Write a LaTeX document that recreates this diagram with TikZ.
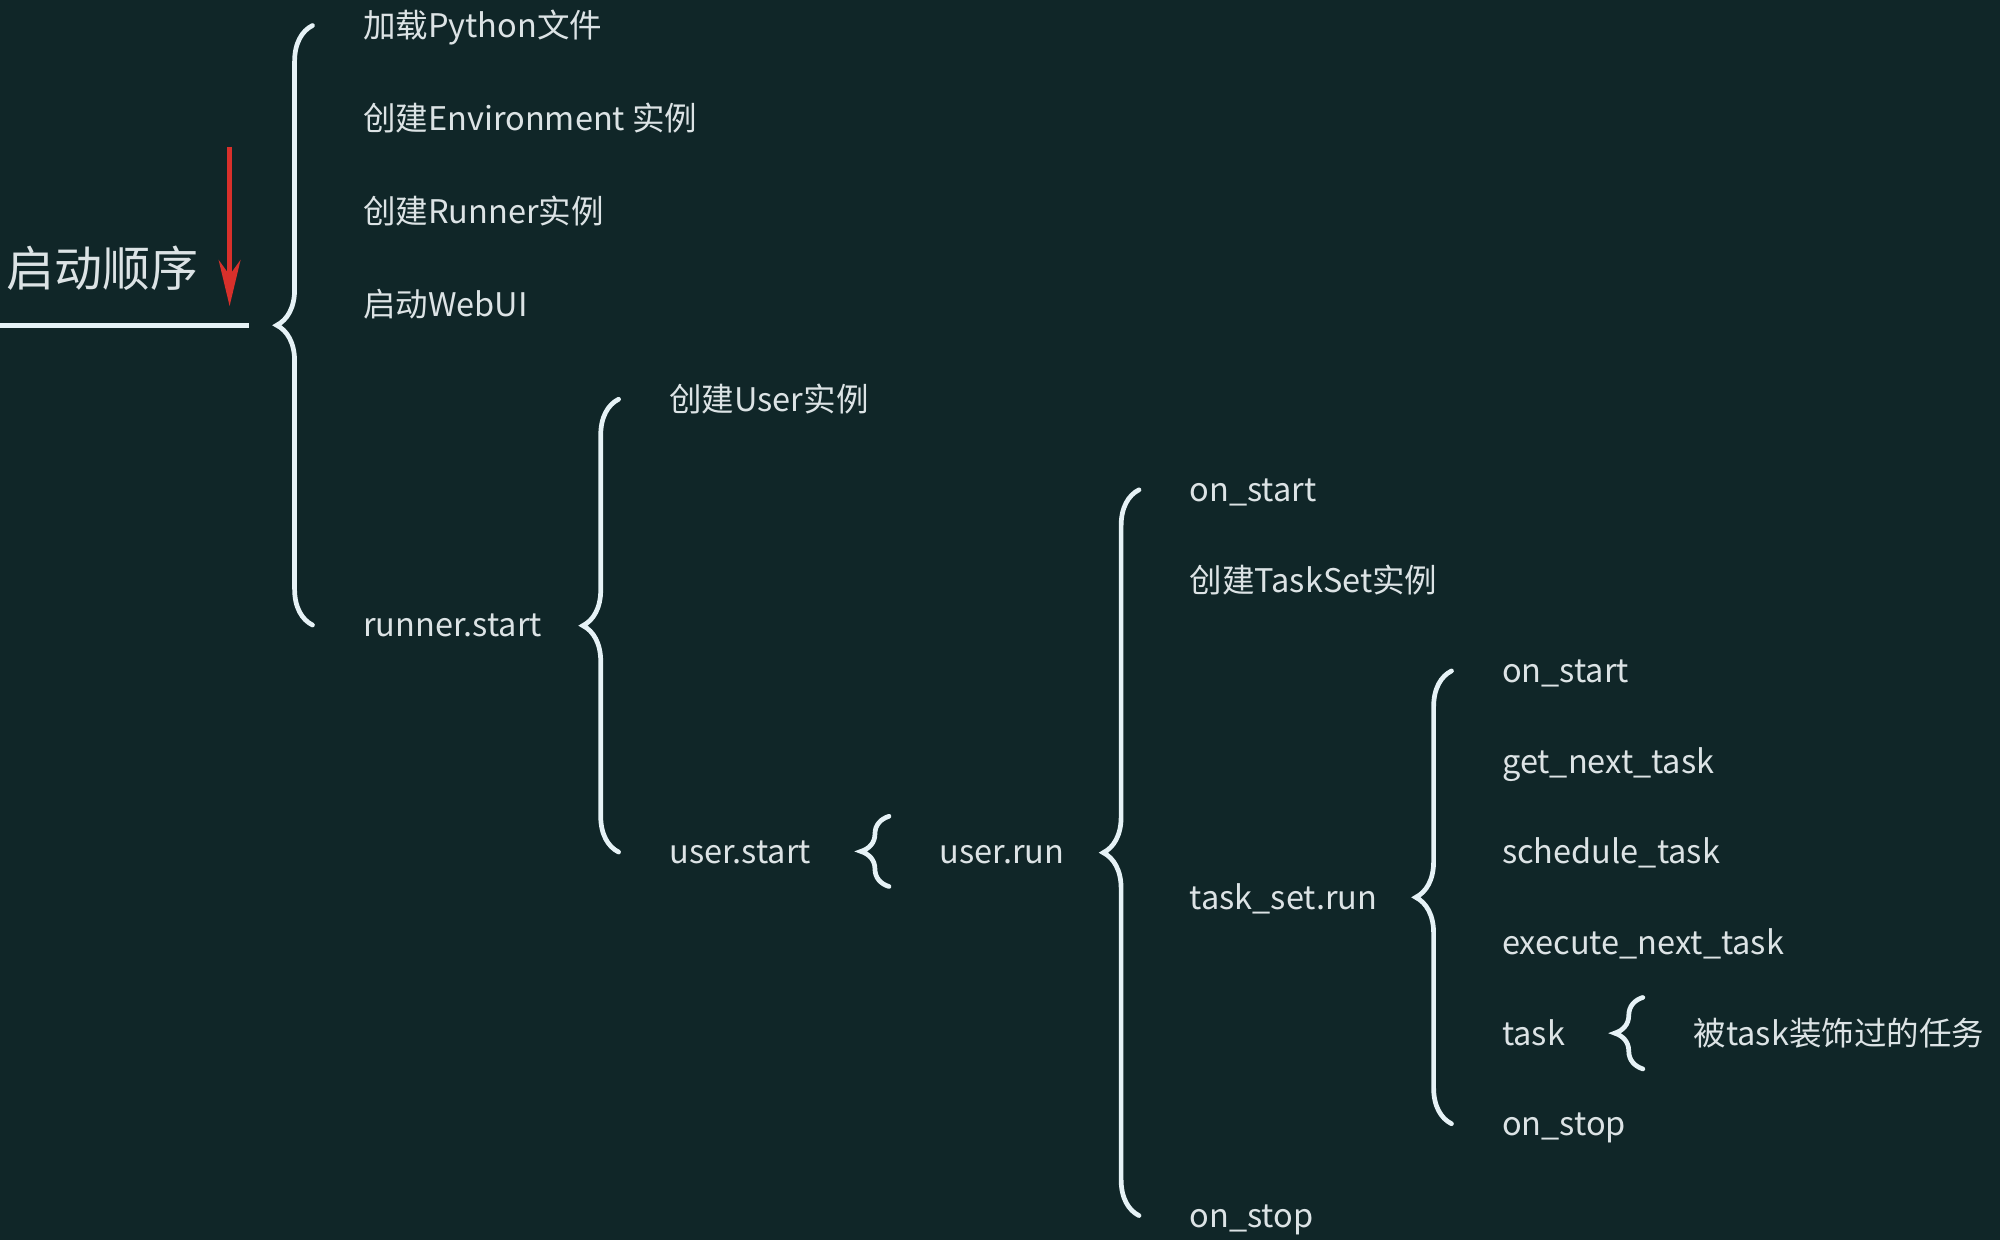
\documentclass[tikz,border=0pt]{standalone}
\usepackage{fontspec}
\setmainfont{Noto Sans CJK SC}
\usetikzlibrary{positioning, arrows.meta, decorations.pathreplacing}
\definecolor{board}{HTML}{102628}
\definecolor{chalk}{HTML}{DCE3E5}
\definecolor{bracecol}{HTML}{E6F2F6}
\definecolor{arrowred}{HTML}{D8302B}
\tikzset {
    item/.style={anchor=west, inner sep=0pt, text=chalk, text height=0.6em, text depth=0.07em,
        font=\fontsize{7.25}{9}\selectfont},
    title/.style={inner sep=0pt, text=chalk, font=\fontsize{10.7}{12}\selectfont},
    curly/.style={decorate, decoration={brace, amplitude=0.28cm}, draw=bracecol,
        line width=1.05pt, line cap=round},
    small curly/.style={curly, decoration={brace, amplitude=0.22cm}},
    underline/.style={draw=bracecol, line width=1.2pt},
    flow/.style={draw=arrowred, line width=1.2pt, -{Stealth[length=0.36cm, width=0.17cm]}}
}

\begin{document}
\begin{tikzpicture}[x=0.01cm, y=-0.01cm]
    \useasboundingbox (0,0) rectangle (1568,972);
    \fill[board] (0,0) rectangle (1568,972);

    \node[title] (order) at (80,210) {启动顺序};
    \coordinate (linestart) at (0,255);
    \coordinate (lineend) at (195,255);
    \coordinate (arrowtop) at (180,115);
    \coordinate (arrowtip) at (180,240);

    \node[item] (load) at (284,20) {加载Python文件};
    \node[item] (env) at (284,93) {创建Environment 实例};
    \node[item] (runner) at (284,166) {创建Runner实例};
    \node[item] (webui) at (284,239) {启动WebUI};
    \node[item] (rstart) at (284,490) {runner.start};

    \node[item] (user) at (524,313) {创建User实例};
    \node[item] (ustart) at (524,668) {user.start};
    \node[item] (urun) at (736,668) {user.run};

    \node[item] (uon) at (932,384) {on\_start};
    \node[item] (tsnew) at (932,455) {创建TaskSet实例};
    \node[item] (tsrun) at (932,704) {task\_set.run};
    \node[item] (uoff) at (932,953) {on\_stop};

    \node[item] (tson) at (1177,526) {on\_start};
    \node[item] (getnext) at (1177,597) {get\_next\_task};
    \node[item] (sched) at (1177,668) {schedule\_task};
    \node[item] (execnext) at (1177,739) {execute\_next\_task};
    \node[item] (task) at (1177,810) {task};
    \node[item] (tsoff) at (1177,881) {on\_stop};
    \node[item] (deco) at (1327,810) {被task装饰过的任务};

    \draw[underline] (linestart) -- (lineend);
    \draw[flow] (arrowtop) -- (arrowtip);

    \draw[curly] ([xshift=-0.39cm]rstart.west) -- ([xshift=-0.39cm]rstart.west |- load.west);
    \draw[curly] ([xshift=-0.39cm]ustart.west) -- ([xshift=-0.39cm]ustart.west |- user.west);
    \draw[small curly] ([xshift=-0.39cm, yshift=-0.27cm]urun.west) -- ([xshift=-0.39cm, yshift=0.28cm]urun.west);
    \draw[curly] ([xshift=-0.39cm]uoff.west) -- ([xshift=-0.39cm]uoff.west |- uon.west);
    \draw[curly] ([xshift=-0.39cm]tsoff.west) -- ([xshift=-0.39cm]tsoff.west |- tson.west);
    \draw[small curly] ([xshift=-0.39cm, yshift=-0.28cm]deco.west) -- ([xshift=-0.39cm, yshift=0.28cm]deco.west);
\end{tikzpicture}
\end{document}
